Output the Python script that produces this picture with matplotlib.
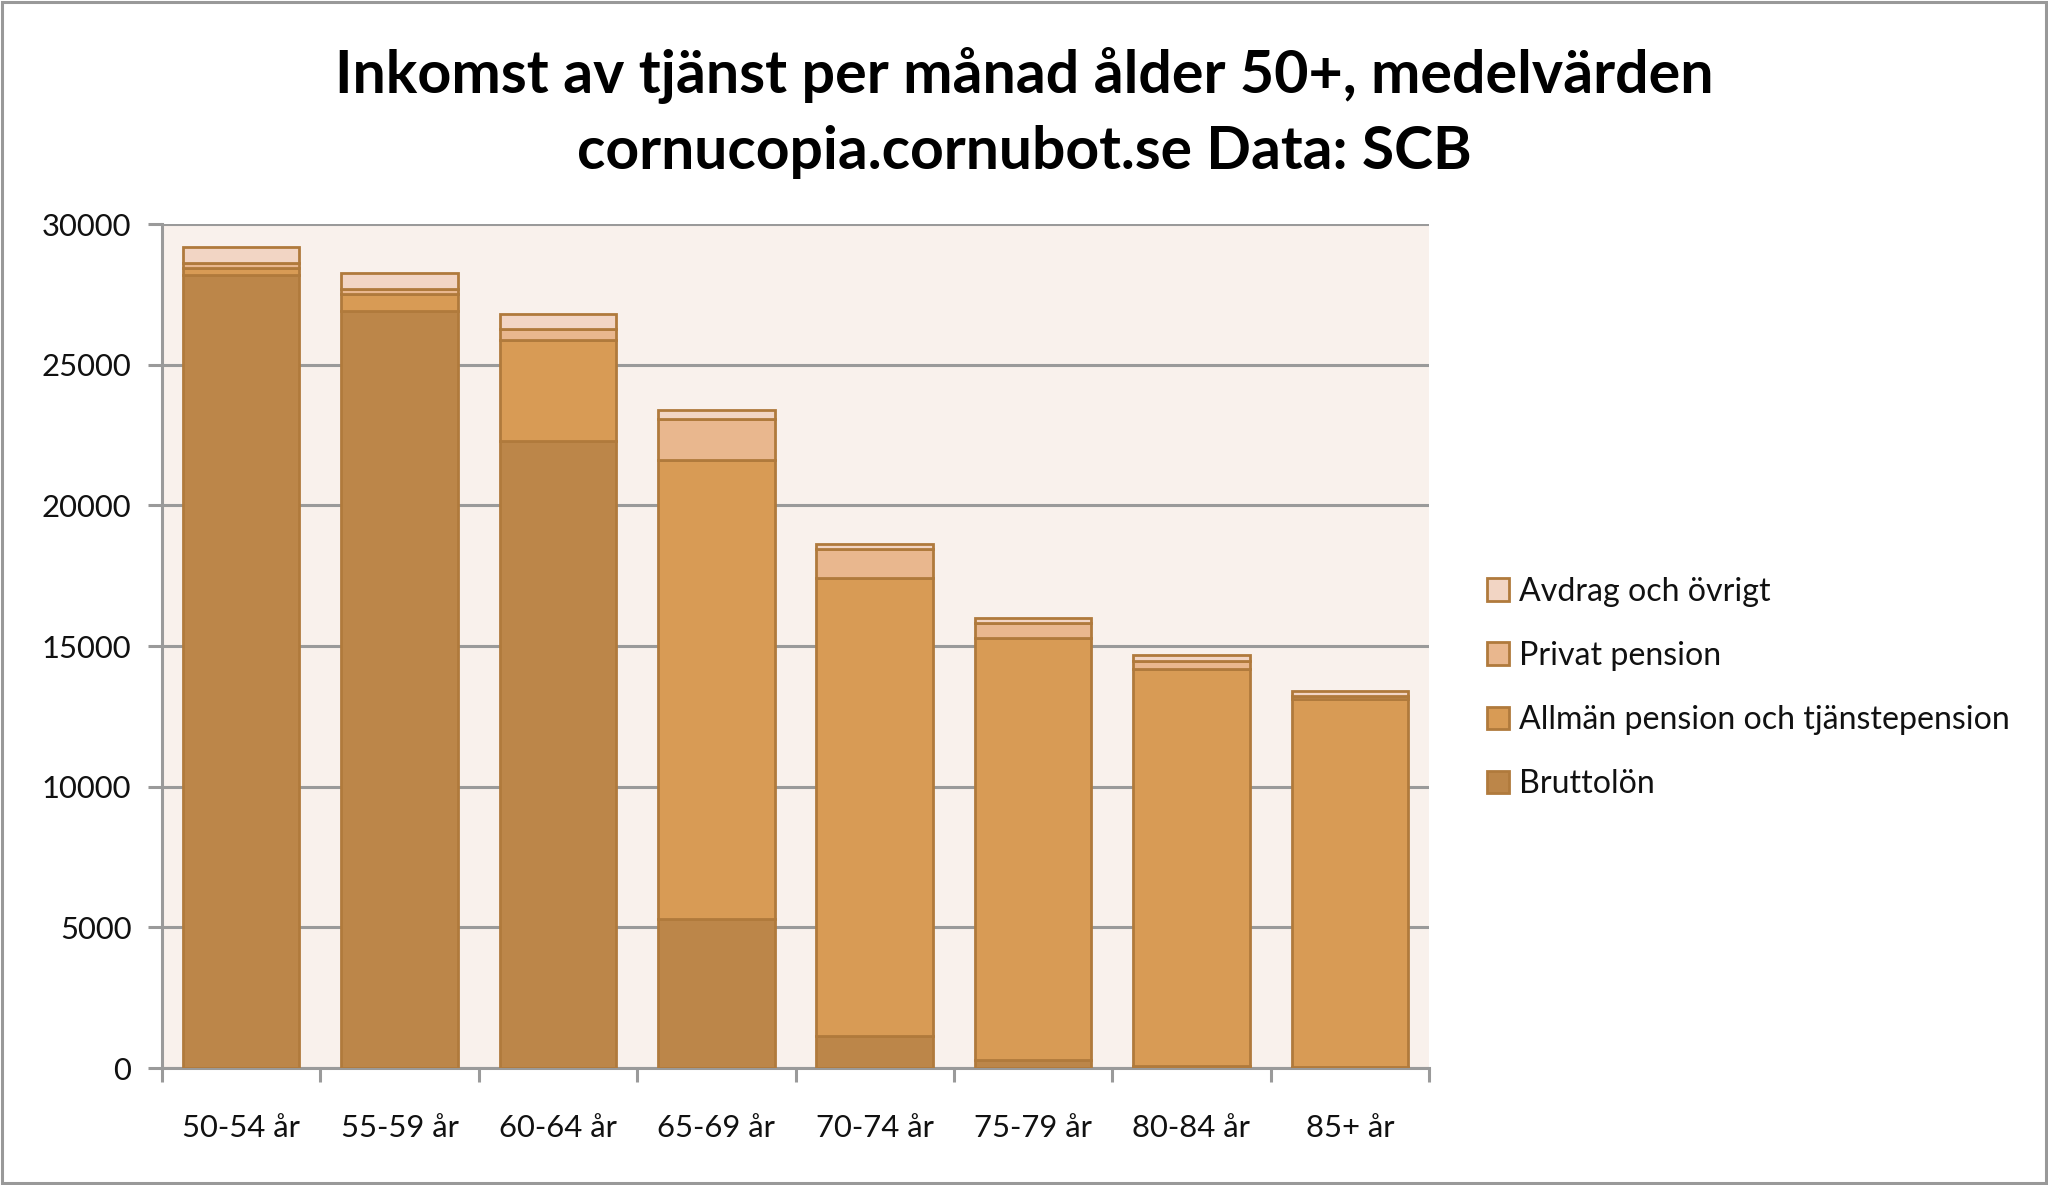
import matplotlib
matplotlib.use("Agg")
import matplotlib.pyplot as plt
from matplotlib.patches import Patch, Rectangle
import numpy as np

categories = ["50-54 år", "55-59 år", "60-64 år", "65-69 år", "70-74 år", "75-79 år", "80-84 år", "85+ år"]
bruttolon = [28180, 26910, 22280, 5310, 1120, 280, 80, 30]
allman = [240, 600, 3590, 16300, 16310, 14990, 14090, 13070]
privat = [210, 165, 390, 1470, 1010, 550, 310, 120]
avdrag = [540, 570, 530, 310, 190, 165, 200, 190]
series_names = ["Bruttolön", "Allmän pension och tjänstepension", "Privat pension", "Avdrag och övrigt"]
yticks = [0, 5000, 10000, 15000, 20000, 25000, 30000]

colors = ["#BC8649", "#D89B55", "#E9B78E", "#F2D5C4"]
edge = "#B07A3C"
font = "Lato"

W, H = 2048, 1185
fig = plt.figure(figsize=(W / 100, H / 100), dpi=100)
fig.patch.set_facecolor("white")
fig.add_artist(Rectangle((2 / W, 2 / H), 1 - 4 / W, 1 - 4 / H, transform=fig.transFigure,
                         fill=False, edgecolor="#999999", linewidth=2.2))

ax = fig.add_axes([162 / W, (H - 1068) / H, (1429 - 162) / W, (1068 - 224) / H])
ax.set_facecolor("#F9F1EC")

x = np.arange(len(categories))
bottom = np.zeros(len(categories))
for vals, col, name in zip([bruttolon, allman, privat, avdrag], colors, series_names):
    ax.bar(x, vals, bottom=bottom, width=0.735, color=col, edgecolor=edge, linewidth=2.0,
           label=name, zorder=3)
    bottom += np.array(vals)

ax.set_xlim(-0.5, len(categories) - 0.5)
ax.set_ylim(0, 30000)
ax.set_yticks(yticks)
ax.set_yticklabels([str(v) for v in yticks], fontsize=22.3, family=font, color="#111111")
ax.yaxis.grid(True, color="#9A9A9A", linewidth=2.2, zorder=1)
ax.set_axisbelow(True)

ax.set_xticks(x)
ax.set_xticklabels(categories, fontsize=22.3, family=font, color="#111111")
ax.set_xticks(np.arange(-0.5, len(categories)), minor=True)
ax.tick_params(axis="x", which="major", length=0, pad=33)
ax.tick_params(axis="x", which="minor", length=10, width=2.2, color="#9A9A9A")
ax.tick_params(axis="y", length=10, width=2.2, color="#9A9A9A", pad=12)

for s in ["top", "right"]:
    ax.spines[s].set_visible(False)
for s in ["left", "bottom"]:
    ax.spines[s].set_color("#9A9A9A")
    ax.spines[s].set_linewidth(2.2)

fig.text(0.5, 1 - 76 / H, "Inkomst av tjänst per månad ålder 50+, medelvärden",
         ha="center", va="center", fontsize=42.6, fontweight="bold", family=font)
fig.text(0.5, 1 - 152 / H, "cornucopia.cornubot.se Data: SCB",
         ha="center", va="center", fontsize=42.3, fontweight="bold", family=font)

handles = [Patch(facecolor=c, edgecolor=edge, linewidth=2.0) for c in colors][::-1]
labels = series_names[::-1]
leg = fig.legend(handles, labels, loc="center left", bbox_to_anchor=(1458 / W, 1 - 688 / H),
                 frameon=False, prop={"family": font, "size": 23.1},
                 handlelength=0.7, handleheight=0.7, handletextpad=0.3, labelspacing=1.07,
                 labelcolor="#111111")

fig.savefig("out.png", dpi=100, facecolor="white")
